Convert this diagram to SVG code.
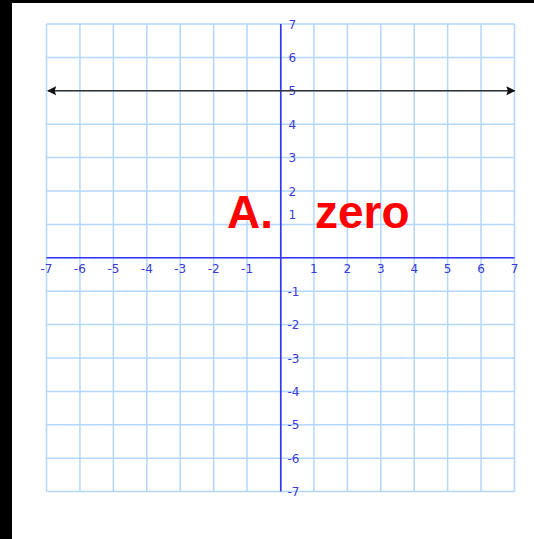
<svg xmlns="http://www.w3.org/2000/svg" width="534" height="539" viewBox="0 0 534 539">
<style>
.grid{stroke:#b3d7ff;stroke-width:1.5;fill:none}
.axis{stroke:#3535f0;stroke-width:1.6;fill:none}
.lbl{font-family:"DejaVu Sans",Verdana,sans-serif;font-size:12px;fill:#3a3ad8}
.xl{text-anchor:middle}
.ans{font-family:"Liberation Sans",Arial,sans-serif;font-weight:bold;font-size:46px;fill:#ff0000}
</style>
<defs>
<marker id="ah" viewBox="0 0 10 10" refX="9" refY="5" markerWidth="9" markerHeight="11" markerUnits="userSpaceOnUse" orient="auto-start-reverse">
<path d="M0,0 L10,5 L0,10 L1.5,5 z" fill="#111"/>
</marker>
</defs>
<rect x="0" y="0" width="534" height="539" fill="#fff"/>
<rect x="0" y="0" width="534" height="3" fill="#000"/>
<rect x="0" y="0" width="12" height="539" fill="#000"/>
<g id="grid" class="grid">
<path d="M46.5,24V491.6M79.93,24V491.6M113.36,24V491.6M146.79,24V491.6M180.21,24V491.6M213.64,24V491.6M247.07,24V491.6M280.5,24V491.6M313.93,24V491.6M347.36,24V491.6M380.79,24V491.6M414.21,24V491.6M447.64,24V491.6M481.07,24V491.6M514.5,24V491.6"/>
<path d="M46.5,24H514.5M46.5,57.4H514.5M46.5,90.8H514.5M46.5,124.2H514.5M46.5,157.6H514.5M46.5,191H514.5M46.5,224.4H514.5M46.5,257.8H514.5M46.5,291.2H514.5M46.5,324.6H514.5M46.5,358H514.5M46.5,391.4H514.5M46.5,424.8H514.5M46.5,458.2H514.5M46.5,491.6H514.5"/>
</g>
<g id="axes" class="axis">
<path d="M46.5,257.8H514.5"/>
<path d="M280.8,24V491.6"/>
</g>
<g id="xlabels" class="lbl xl">
<text x="46.5" y="273">-7</text>
<text x="79.93" y="273">-6</text>
<text x="113.36" y="273">-5</text>
<text x="146.79" y="273">-4</text>
<text x="180.21" y="273">-3</text>
<text x="213.64" y="273">-2</text>
<text x="247.07" y="273">-1</text>
<text x="313.93" y="273">1</text>
<text x="347.36" y="273">2</text>
<text x="380.79" y="273">3</text>
<text x="414.21" y="273">4</text>
<text x="447.64" y="273">5</text>
<text x="481.07" y="273">6</text>
<text x="514.5" y="273">7</text>
</g>
<g id="ylabels" class="lbl">
<text x="288.5" y="28.5">7</text>
<text x="288.5" y="61.9">6</text>
<text x="288.5" y="95.3">5</text>
<text x="288.5" y="128.7">4</text>
<text x="288.5" y="162.1">3</text>
<text x="288.5" y="195.5">2</text>
<text x="288.5" y="218.5">1</text>
<text x="287.5" y="295.7">-1</text>
<text x="287.5" y="329.1">-2</text>
<text x="287.5" y="362.5">-3</text>
<text x="287.5" y="395.9">-4</text>
<text x="287.5" y="429.3">-5</text>
<text x="287.5" y="462.7">-6</text>
<text x="287.5" y="496.1">-7</text>
</g>
<g id="connectors">
<path d="M48,90.8H514.5" stroke="#333" stroke-width="1.5" fill="none" marker-start="url(#ah)" marker-end="url(#ah)"/>
</g>
<g id="answer">
<text class="ans" x="227" y="228">A.</text>
<text class="ans" x="315" y="228">zero</text>
</g>
</svg>
